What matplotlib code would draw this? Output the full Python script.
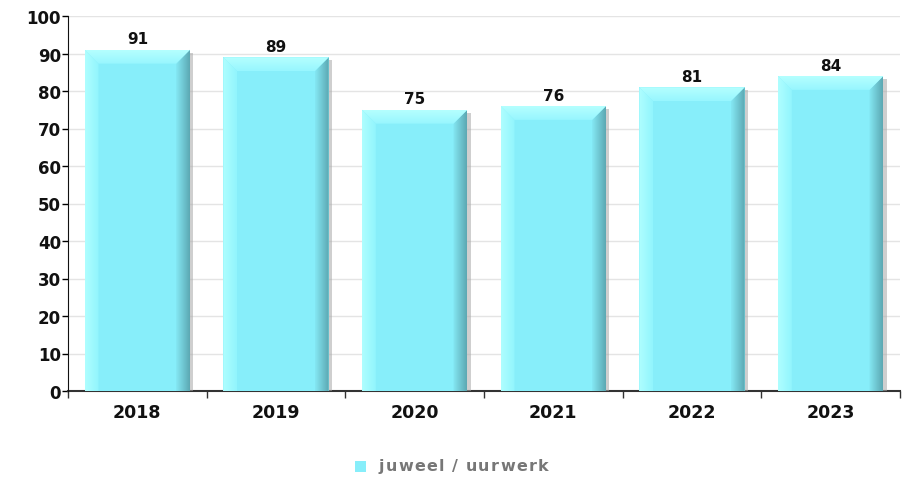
import numpy as np
import matplotlib
matplotlib.use('Agg')
import matplotlib.pyplot as plt
from matplotlib.patches import Polygon, Rectangle
from matplotlib.colors import LinearSegmentedColormap

# Data
years = ['2018', '2019', '2020', '2021', '2022', '2023']
values = [91, 89, 75, 76, 81, 84]
series_name = 'juweel / uurwerk'

main_col = '#87eefa'
bar_w = 0.76   # bar width in category units
bev_x = 0.10   # bevel width (category units)
bev_y = 3.7    # bevel height (value units)

fig = plt.figure(figsize=(9.12, 4.81), dpi=100)
ax = fig.add_axes([68 / 912, 89 / 481, 832 / 912, 375 / 481])

x = np.arange(len(years))
ax.set_xlim(-0.5, len(years) - 0.5)
ax.set_ylim(0, 100)


def gradient_fill(ax, poly_pts, c0, c1, horizontal=True, z=3):
    # paint a linear gradient clipped to a polygon
    poly = Polygon(poly_pts, closed=True, facecolor='none', edgecolor='none')
    ax.add_patch(poly)
    xs = [p[0] for p in poly_pts]
    ys = [p[1] for p in poly_pts]
    cmap = LinearSegmentedColormap.from_list('g', [c0, c1])
    grad = np.linspace(0, 1, 64)
    img = grad[None, :] if horizontal else grad[:, None]
    im = ax.imshow(img, cmap=cmap, aspect='auto', interpolation='bilinear',
                   extent=[min(xs), max(xs), min(ys), max(ys)], origin='lower', zorder=z)
    im.set_clip_path(poly)


# drop shadow behind each bar
ax.bar(x + 0.025, [v - 0.8 for v in values], bar_w, color='#a8a8a8', alpha=0.55, zorder=1)
# main body
ax.bar(x, values, bar_w, color=main_col, zorder=2)

for xi, v in zip(x, values):
    x0, x1 = xi - bar_w / 2, xi + bar_w / 2
    # left highlight strip
    gradient_fill(ax, [(x0, 0), (x0 + bev_x, 0), (x0 + bev_x, v - bev_y), (x0, v)],
                  '#aefeff', '#92f5fd', horizontal=True)
    # right shaded strip
    gradient_fill(ax, [(x1 - bev_x, 0), (x1, 0), (x1, v), (x1 - bev_x, v - bev_y)],
                  '#84e8f4', '#5ca8b2', horizontal=True)
    # top bevel
    gradient_fill(ax, [(x0, v), (x1, v), (x1 - bev_x, v - bev_y), (x0 + bev_x, v - bev_y)],
                  '#98f6fe', '#b4ffff', horizontal=False, z=4)
    ax.text(xi, v + 0.9, str(v), ha='center', va='bottom', fontsize=11,
            fontweight='bold', color='#111111', zorder=6)

# axes styling
ax.set_yticks(np.arange(0, 101, 10))
ax.set_xticks(x)
ax.set_xticklabels(years)
ax.set_xticks(np.arange(-0.5, len(years)), minor=True)
ax.tick_params(axis='x', which='major', length=0, pad=9, labelsize=12.5)
ax.tick_params(axis='x', which='minor', length=5, width=1, color='#333333')
ax.tick_params(axis='y', length=4, width=1, pad=1, labelsize=12)
for lab in ax.get_xticklabels() + ax.get_yticklabels():
    lab.set_fontweight('bold')
    lab.set_color('#111111')
ax.yaxis.grid(True, color='#e4e4e4', linewidth=1)
ax.set_axisbelow(True)
for s in ['top', 'right']:
    ax.spines[s].set_visible(False)
ax.spines['left'].set_color('#111111')
ax.spines['bottom'].set_color('#333333')
ax.spines['bottom'].set_linewidth(1.5)
ax.spines['bottom'].set_zorder(0.8)

# legend: marker square plus slightly letter-spaced grey label
fig.patches.append(Rectangle((355 / 912, 1 - 473 / 481), 11 / 912, 11 / 481,
                             transform=fig.transFigure, facecolor=main_col, edgecolor='none'))
renderer = fig.canvas.get_renderer()
px = 379.0
for ch in series_name:
    t = fig.text(px / 912, 1 - 467 / 481, ch, ha='left', va='center', fontsize=11.5,
                 fontweight='bold', color='#777777')
    w = t.get_window_extent(renderer).width if ch != ' ' else 5.0
    px += w + 1.3

fig.savefig('out.png', dpi=100)
